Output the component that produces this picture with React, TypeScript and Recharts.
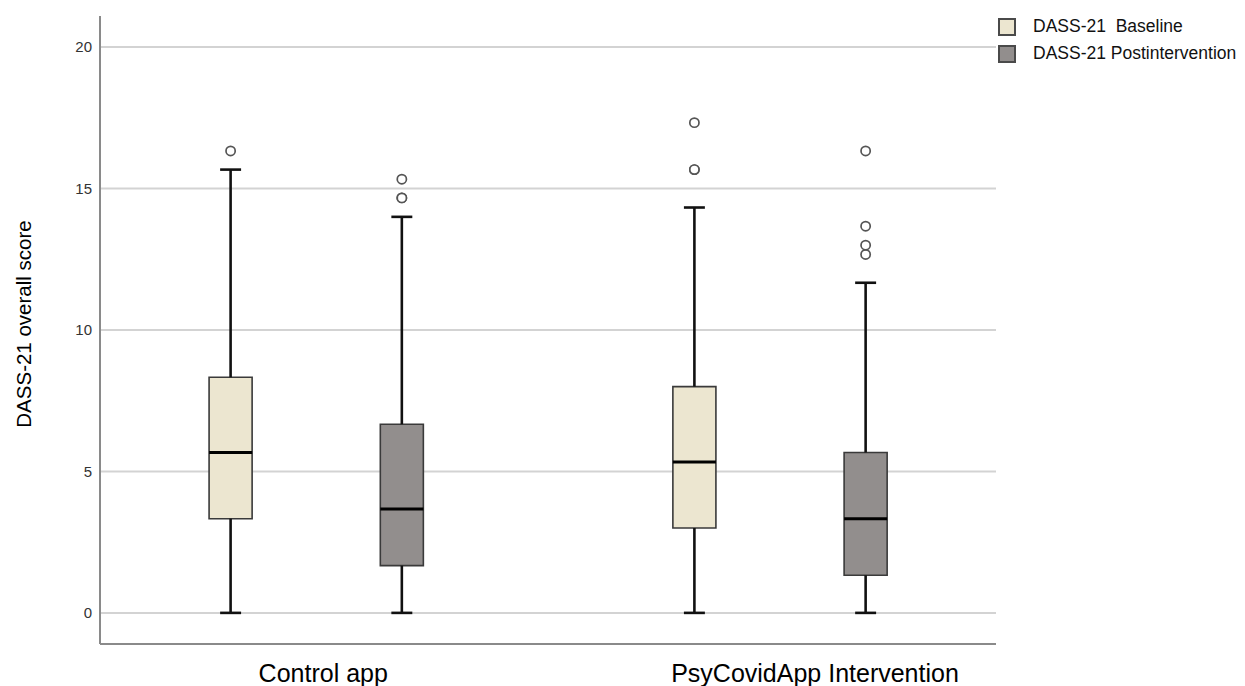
import React from 'react';
import {
  ComposedChart,
  XAxis,
  YAxis,
  CartesianGrid,
  ReferenceArea,
  ReferenceLine,
  Scatter,
  Label,
} from 'recharts';

// ---------- data ----------
const categories = ['Control app', 'PsyCovidApp Intervention'];
const seriesNames = ['DASS-21  Baseline', 'DASS-21 Postintervention'];
const yTicks = [0, 5, 10, 15, 20];

const baselineMin = [0, 0];
const baselineQ1 = [3.33, 3.0];
const baselineMedian = [5.67, 5.33];
const baselineQ3 = [8.33, 8.0];
const baselineMax = [15.67, 14.33];
const baselineOutliers = [[16.33], [15.67, 15.67, 17.33]];

const postMin = [0, 0];
const postQ1 = [1.67, 1.33];
const postMedian = [3.67, 3.33];
const postQ3 = [6.67, 5.67];
const postMax = [14.0, 11.67];
const postOutliers = [[14.67, 14.67, 15.33], [12.67, 13.0, 13.67, 16.33]];

// ---------- layout / style ----------
const groupPos = [1, 2];
const seriesOffset = [-0.1846, 0.1846];
const boxHalf = 0.0464;
const capHalf = 0.0226;
const xDomain = [0.5338, 2.4657];
const yDomain = [-1.1, 21.1];
const seriesFill = ['#ECE6D0', '#928E8D'];
const labelShift = [7, 35];
const FONT = '"Liberation Sans", Arial, sans-serif';

type Box = { x: number; min: number; q1: number; med: number; q3: number; max: number; fill: string };

const series = [
  { min: baselineMin, q1: baselineQ1, med: baselineMedian, q3: baselineQ3, max: baselineMax, out: baselineOutliers },
  { min: postMin, q1: postQ1, med: postMedian, q3: postQ3, max: postMax, out: postOutliers },
];

const boxes: Box[] = [];
const outlierPoints: { x: number; y: number }[] = [];
categories.forEach((_, gi) => {
  series.forEach((s, si) => {
    const x = groupPos[gi] + seriesOffset[si];
    boxes.push({ x, min: s.min[gi], q1: s.q1[gi], med: s.med[gi], q3: s.q3[gi], max: s.max[gi], fill: seriesFill[si] });
    s.out[gi].forEach((v) => outlierPoints.push({ x, y: v }));
  });
});

const XTick = (props: any) => {
  const { x, y, payload } = props;
  const i = groupPos.indexOf(payload.value);
  if (i < 0) return null;
  return (
    <text x={x + labelShift[i]} y={y + 38} textAnchor="middle" fontSize={25} fontFamily={FONT} fill="#000">
      {categories[i]}
    </text>
  );
};

const OutlierShape = (props: any) => {
  const { cx, cy } = props;
  return <circle cx={cx} cy={cy} r={4.6} fill="#fff" stroke="#555" strokeWidth={1.7} />;
};

const LegendBox = () => (
  <div
    style={{
      position: 'absolute',
      left: 998,
      top: 13,
      fontFamily: FONT,
      fontSize: 17.5,
      color: '#111',
    }}
  >
    {seriesNames.map((n, i) => (
      <div key={n} style={{ display: 'flex', alignItems: 'center', height: 27 }}>
        <div
          style={{
            width: 18,
            height: 18,
            boxSizing: 'border-box',
            border: '2px solid #4a4a4a',
            background: seriesFill[i],
            marginRight: 17,
          }}
        />
        <span style={{ whiteSpace: 'pre' }}>{n}</span>
      </div>
    ))}
  </div>
);

export default function App() {
  return (
    <div style={{ position: 'absolute', left: 0, top: 0, width: 1245, height: 686, background: '#fff' }}>
      <ComposedChart
        width={1245}
        height={686}
        margin={{ top: 16, right: 249, bottom: 0, left: 0 }}
      >
        <CartesianGrid
          horizontal
          vertical={false}
          horizontalValues={yTicks}
          stroke="#d3d3d3"
          strokeWidth={2}
        />
        <XAxis
          type="number"
          dataKey="x"
          domain={xDomain}
          ticks={groupPos}
          allowDataOverflow
          height={42}
          tickLine={false}
          tickSize={0}
          tickMargin={0}
          axisLine={{ stroke: '#8a8a8a', strokeWidth: 2 }}
          tick={<XTick />}
          interval={0}
        />
        <YAxis
          type="number"
          dataKey="y"
          domain={yDomain}
          ticks={yTicks}
          allowDataOverflow
          width={100}
          tickLine={false}
          tickSize={0}
          tickMargin={8}
          axisLine={{ stroke: '#8a8a8a', strokeWidth: 2 }}
          tick={{ fontSize: 15, fontFamily: FONT, fill: '#333' }}
        >
          <Label
            content={() => (
              <text
                transform="translate(23,324) rotate(-90)"
                textAnchor="middle"
                dominantBaseline="central"
                fontSize={20.5}
                fontFamily={FONT}
                fill="#000"
              >
                DASS-21 overall score
              </text>
            )}
          />
        </YAxis>

        {boxes.map((b, i) => (
          <ReferenceArea
            key={`box-${i}`}
            x1={b.x - boxHalf}
            x2={b.x + boxHalf}
            y1={b.q1}
            y2={b.q3}
            fill={b.fill}
            fillOpacity={1}
            stroke="#3a3a3a"
            strokeWidth={1.6}
            ifOverflow="visible"
          />
        ))}
        {boxes.map((b, i) => (
          <ReferenceLine
            key={`wu-${i}`}
            segment={[{ x: b.x, y: b.q3 }, { x: b.x, y: b.max }]}
            stroke="#111"
            strokeWidth={2.6}
            ifOverflow="visible"
          />
        ))}
        {boxes.map((b, i) => (
          <ReferenceLine
            key={`wl-${i}`}
            segment={[{ x: b.x, y: b.min }, { x: b.x, y: b.q1 }]}
            stroke="#111"
            strokeWidth={2.6}
            ifOverflow="visible"
          />
        ))}
        {boxes.map((b, i) => (
          <ReferenceLine
            key={`cu-${i}`}
            segment={[{ x: b.x - capHalf, y: b.max }, { x: b.x + capHalf, y: b.max }]}
            stroke="#111"
            strokeWidth={2.6}
            ifOverflow="visible"
          />
        ))}
        {boxes.map((b, i) => (
          <ReferenceLine
            key={`cl-${i}`}
            segment={[{ x: b.x - capHalf, y: b.min }, { x: b.x + capHalf, y: b.min }]}
            stroke="#111"
            strokeWidth={2.6}
            ifOverflow="visible"
          />
        ))}
        {boxes.map((b, i) => (
          <ReferenceLine
            key={`md-${i}`}
            segment={[{ x: b.x - boxHalf, y: b.med }, { x: b.x + boxHalf, y: b.med }]}
            stroke="#000"
            strokeWidth={3}
            ifOverflow="visible"
          />
        ))}
        <Scatter
          data={outlierPoints}
          dataKey="y"
          shape={<OutlierShape />}
          isAnimationActive={false}
          legendType="none"
        />
      </ComposedChart>
      <LegendBox />
    </div>
  );
}
